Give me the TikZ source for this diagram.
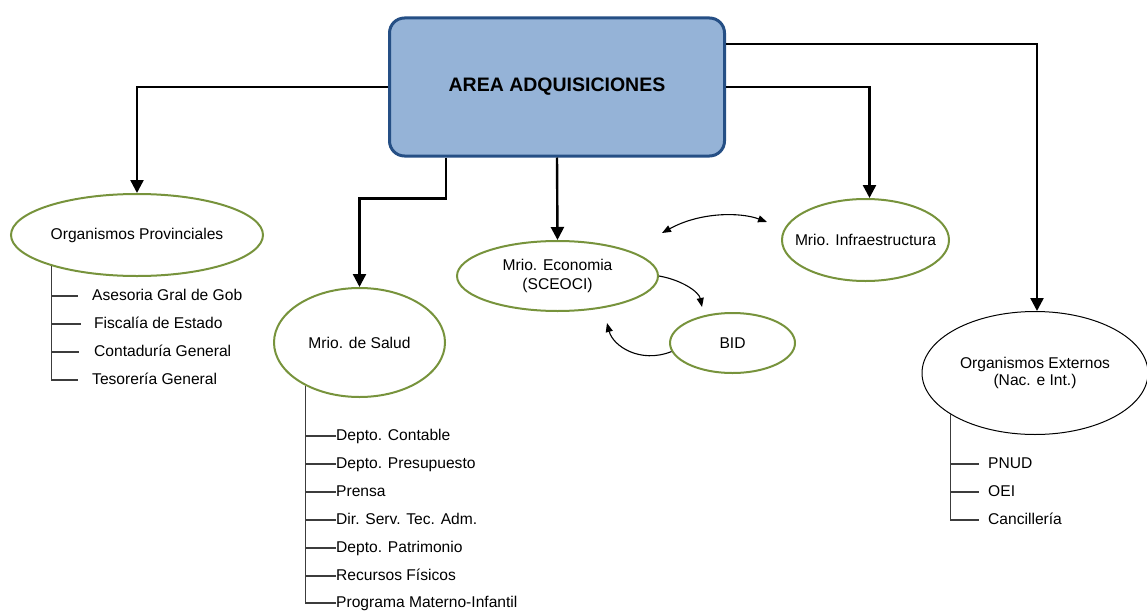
\documentclass[tikz,border=0pt]{standalone}
\usepackage{fontspec}
\setmainfont{Liberation Sans}
\usetikzlibrary{shapes.geometric,arrows.meta}
\definecolor{boxfill}{RGB}{149,179,215}
\definecolor{boxline}{RGB}{37,79,133}
\definecolor{unitline}{RGB}{119,147,60}
\definecolor{treeline}{RGB}{60,60,60}

\begin{document}
\begin{tikzpicture}[x=1pt,y=-1pt,
  every node/.style={font=\fontsize{15.6}{19}\selectfont, inner sep=0pt},
  head/.style={draw=boxline, fill=boxfill, line width=3pt, rounded corners=15pt,
    minimum width=335pt, minimum height=138pt,
    font=\bfseries\fontsize{19.5}{23}\selectfont},
  unit/.style={ellipse, draw=unitline, line width=2pt, align=center},
  extunit/.style={ellipse, draw=black, line width=1pt, align=center},
  leaf/.style={anchor=west, text height=11.5pt, text depth=3.3pt},
  conn/.style={line width=2.4pt, -{Triangle[width=13pt,length=13pt]}},
  link/.style={line width=1.1pt, -{Triangle[width=7pt,length=9pt]}},
  twoway/.style={line width=1.1pt, {Triangle[width=7pt,length=9pt]}-{Triangle[width=7pt,length=9pt]}},
  branch/.style={draw=treeline, line width=1.1pt}
]
\useasboundingbox (0,0) rectangle (1147,610);

% central office
\node[head] (main) at (557,87) {AREA ADQUISICIONES};

% related units
\node[unit, minimum width=252pt, minimum height=82pt] (prov) at (137,235) {Organismos Provinciales};
\node[unit, minimum width=171pt, minimum height=109pt] (salud) at (359.5,342.5) {Mrio. de Salud};
\node[unit, minimum width=201pt, minimum height=70pt] (eco) at (557.5,276) {Mrio. Economia\\(SCEOCI)};
\node[unit, minimum width=125pt, minimum height=60pt] (bid) at (732.5,343) {BID};
% the name runs almost to the outline, so it is set as a centred label
\node[unit, minimum width=167pt, minimum height=82pt,
  label={center:Mrio. Infraestructura}] (infra) at (865.5,240) {};
\node[extunit, minimum width=226pt, minimum height=123pt, align=center] (ext) at (1035,373)
  {Organismos Externos\\[-1.5pt](Nac. e Int.)};

% connectors from the central office
\draw[conn] (main.west) -| (prov.north);
\draw[conn] ([xshift=-111pt]main.south) -- ++(0,41) -| (salud.north);
\draw[conn] (main.south) -- (eco.north);
\draw[conn] (main.east) -| ([xshift=4pt]infra.north);
\draw[conn] ([yshift=43pt]main.east) -| ([xshift=2pt]ext.north);

% exchanges between ministries and the bank
\coordinate (ecotip) at (702,307);
\coordinate (bidtip) at (607,323);
\coordinate (lnkA) at (662,233);
\coordinate (lnkB) at (767,222);
\draw[link] (eco.east) .. controls (682,280) and (699,292) .. (ecotip);
\draw[link] (bid.188) .. controls (640,364) and (613,346) .. (bidtip);
\draw[twoway] (lnkA) .. controls (700,212) and (740,212) .. (lnkB);

% provincial bodies
\node[leaf] (p1) at (92,296) {Asesoria Gral de Gob};
\node[leaf] (p2) at (94,324) {Fiscalía de Estado};
\node[leaf] (p3) at (94,352) {Contaduría General};
\node[leaf] (p4) at (92,380) {Tesorería General};
\draw[branch] (prov.200.6) |- ([xshift=-14pt]p1.west);
\draw[branch] (prov.200.6) |- ([xshift=-13pt]p2.west);
\draw[branch] (prov.200.6) |- ([xshift=-15pt]p3.west);
\draw[branch] (prov.200.6) |- ([xshift=-14pt]p4.west);

% health ministry areas
\node[leaf] (s1) at (336,436) {Depto. Contable};
\node[leaf] (s2) at (336,464) {Depto. Presupuesto};
\node[leaf] (s3) at (336,492) {Prensa};
\node[leaf] (s4) at (336,520) {Dir. Serv. Tec. Adm.};
\node[leaf] (s5) at (336,548) {Depto. Patrimonio};
\node[leaf] (s6) at (336,576) {Recursos Físicos};
\node[leaf] (s7) at (336,603) {Programa Materno-Infantil};
\foreach \s in {s1,s2,s3,s4,s5,s6,s7}
  \draw[branch] (salud.219.2) |- (\s.west);

% external bodies
\node[leaf] (e1) at (988,464) {PNUD};
\node[leaf] (e2) at (988,492) {OEI};
\node[leaf] (e3) at (988,520) {Cancillería};
\foreach \e in {e1,e2,e3}
  \draw[branch] (ext.206.3) |- ([xshift=-9pt]\e.west);
\end{tikzpicture}
\end{document}
